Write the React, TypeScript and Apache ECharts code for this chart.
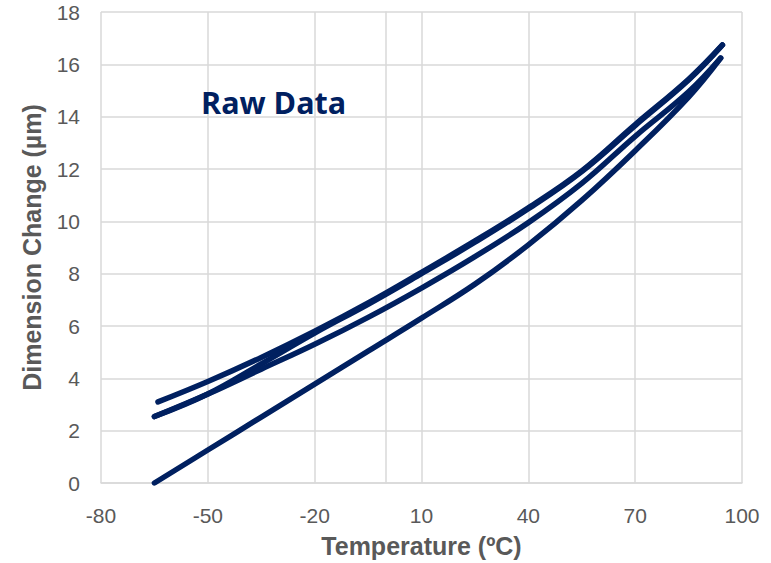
import React, { useEffect, useRef } from "react";
import * as echarts from "echarts";

const heat1Temp = [-65, -50, -35, -20, -5, 10, 25, 40, 55, 70, 85, 94];
const heat1Value = [0, 1.26, 2.52, 3.78, 5.04, 6.3, 7.6, 9.1, 10.8, 12.7, 14.75, 16.24];

const cool1Temp = [94.5, 85, 70, 55, 40, 25, 10, -5, -20, -35, -50, -65];
const cool1Value = [16.74, 15.4, 13.66, 11.9, 10.48, 9.2, 8.0, 6.83, 5.73, 4.55, 3.4, 2.54];

const heat2Temp = [-65, -50, -35, -20, -5, 10, 25, 40, 55, 70, 85, 94];
const heat2Value = [2.54, 3.4, 4.35, 5.3, 6.33, 7.45, 8.65, 9.95, 11.45, 13.25, 14.95, 16.24];

const cool2Temp = [94.5, 85, 70, 55, 40, 25, 10, -5, -20, -35, -50, -64];
const cool2Value = [16.74, 15.43, 13.7, 11.93, 10.52, 9.25, 8.05, 6.88, 5.8, 4.8, 3.88, 3.1];

const xTicks = [-80, -50, -20, 10, 40, 70, 100];
const yTicks = [0, 2, 4, 6, 8, 10, 12, 14, 16, 18];

const LINE_COLOR = "#002060";

function pairs(t: number[], v: number[]) {
  return t.map((x, i) => [x, v[i]]);
}

export default function App() {
  const ref = useRef<HTMLDivElement>(null);
  useEffect(() => {
    if (!ref.current) return;
    const chart = echarts.init(ref.current, null, { renderer: "svg" });
    const mkSeries = (name: string, t: number[], v: number[]) => ({
      name,
      type: "line",
      data: pairs(t, v),
      smooth: 0.4,
      showSymbol: false,
      symbol: "none",
      lineStyle: { color: LINE_COLOR, width: 5.5, cap: "round", join: "round" },
      z: 3,
    });
    chart.setOption({
      animation: false,
      backgroundColor: "#ffffff",
      grid: { left: 101, right: 29, top: 12, bottom: 78, containLabel: false },
      xAxis: {
        type: "value",
        min: xTicks[0],
        max: xTicks[xTicks.length - 1],
        interval: 30,
        name: "Temperature (ºC)",
        nameLocation: "middle",
        nameGap: 50,
        nameTextStyle: { color: "#595959", fontSize: 25, fontWeight: "bold", fontFamily: "Liberation Sans, Arial" },
        axisLine: { show: true, lineStyle: { color: "#d9d9d9", width: 1.5 } },
        axisTick: { show: false },
        axisLabel: { color: "#595959", fontSize: 21, margin: 22, fontFamily: "Liberation Sans, Arial" },
        splitLine: { show: true, lineStyle: { color: "#d9d9d9", width: 1.5 } },
      },
      yAxis: {
        type: "value",
        min: yTicks[0],
        max: yTicks[yTicks.length - 1],
        interval: 2,
        name: "Dimension Change (µm)",
        nameLocation: "middle",
        nameGap: 57,
        nameTextStyle: { color: "#595959", fontSize: 25, fontWeight: "bold", fontFamily: "Liberation Sans, Arial" },
        axisLine: { show: true, lineStyle: { color: "#d9d9d9", width: 1.5 } },
        axisTick: { show: false },
        axisLabel: { color: "#595959", fontSize: 21, margin: 21, fontFamily: "Liberation Sans, Arial" },
        splitLine: { show: true, lineStyle: { color: "#d9d9d9", width: 1.5 } },
      },
      graphic: [
        {
          type: "text",
          left: 201,
          top: 86,
          style: {
            text: "Raw Data",
            fill: LINE_COLOR,
            font: "bold 30.5px 'Open Sans', sans-serif",
          },
          z: 10,
        },
      ],
      series: [
        mkSeries("Heating 1", heat1Temp, heat1Value),
        mkSeries("Cooling 1", cool1Temp, cool1Value),
        mkSeries("Heating 2", heat2Temp, heat2Value),
        mkSeries("Cooling 2", cool2Temp, cool2Value),
      ],
    });
    return () => chart.dispose();
  }, []);
  return (
    <div
      ref={ref}
      style={{ position: "fixed", left: 0, top: 0, width: 771, height: 563, background: "#fff" }}
    />
  );
}
